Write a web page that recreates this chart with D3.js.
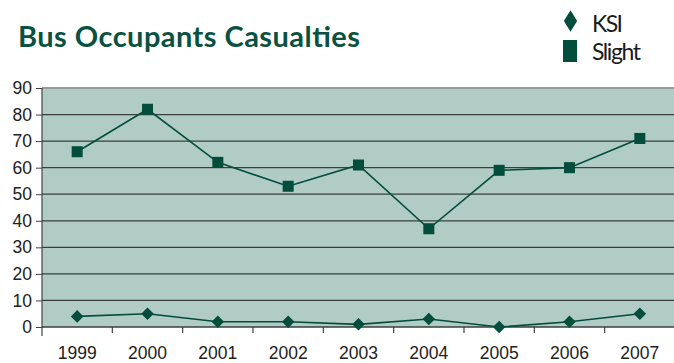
<!DOCTYPE html>
<html>
<head>
<meta charset="utf-8">
<script src="https://cdn.jsdelivr.net/npm/d3@7"></script>
<style>
  body { margin: 0; background: #fff; }
  svg { display: block; }
</style>
</head>
<body>
<script>
// data
const years = ["1999", "2000", "2001", "2002", "2003", "2004", "2005", "2006", "2007"];
const ksi = [4, 5, 2, 2, 1, 3, 0, 2, 5];
const slight = [66, 82, 62, 53, 61, 37, 59, 60, 71];
const yTicks = [0, 10, 20, 30, 40, 50, 60, 70, 80, 90];

const W = 674, H = 363;
const margin = {top: 88, left: 42, bottom: 36, right: -1};
const width = W - margin.left - margin.right;
const height = H - margin.top - margin.bottom;

const ink = "#024d3c";
const axisFont = "'Liberation Sans', Arial, sans-serif";

const svg = d3.select("body").append("svg")
  .attr("width", W)
  .attr("height", H);

// title
svg.append("text")
  .attr("x", 18).attr("y", 47)
  .attr("font-family", "Lato, 'Open Sans', sans-serif")
  .attr("font-weight", "bold")
  .attr("font-size", 29)
  .attr("textLength", 342)
  .attr("fill", "#0b5141")
  .text("Bus Occupants Casualties");

// legend
const legend = svg.append("g");
legend.append("path")
  .attr("d", d3.symbol(d3.symbolDiamond2, 100)())
  .attr("transform", "translate(570.5,21) scale(1.06,1.7)")
  .attr("fill", ink);
legend.append("text")
  .attr("x", 592).attr("y", 32)
  .attr("font-family", "Lato, sans-serif")
  .attr("font-size", 23)
  .attr("textLength", 31)
  .attr("fill", "#1a1a1a")
  .text("KSI");
legend.append("rect")
  .attr("x", 563).attr("y", 40).attr("width", 14).attr("height", 22)
  .attr("fill", ink);
legend.append("text")
  .attr("x", 592).attr("y", 60)
  .attr("font-family", "Lato, sans-serif")
  .attr("font-size", 23)
  .attr("textLength", 49)
  .attr("fill", "#1a1a1a")
  .text("Slight");

const g = svg.append("g")
  .attr("transform", `translate(${margin.left},${margin.top})`);

const x = d3.scaleBand().domain(years).range([0, width]);
const y = d3.scaleLinear().domain([0, 90]).range([height, 0]);

// plot background
g.append("rect")
  .attr("x", 0).attr("y", 0)
  .attr("width", width).attr("height", height)
  .attr("fill", "#b1cbc5");

// gridlines
g.selectAll(".grid")
  .data(yTicks.filter(d => d > 0 && d < 90))
  .enter().append("line")
  .attr("x1", 0).attr("x2", width)
  .attr("y1", d => y(d)).attr("y2", d => y(d))
  .attr("stroke", "#3a3f3d")
  .attr("stroke-width", 1.2);

g.append("line")
  .attr("x1", 0).attr("x2", width)
  .attr("y1", y(90)).attr("y2", y(90))
  .attr("stroke", "#969a99")
  .attr("stroke-width", 2);

// y axis
const yAxis = g.append("g")
  .call(d3.axisLeft(y).tickValues(yTicks).tickSize(6).tickPadding(4));
yAxis.select(".domain").remove();
yAxis.selectAll("line").attr("stroke", "#444");
yAxis.selectAll("text")
  .attr("font-family", axisFont)
  .attr("font-size", 17.5)
  .attr("fill", "#222");
g.append("line")
  .attr("x1", 0).attr("x2", 0)
  .attr("y1", 0).attr("y2", height + 9)
  .attr("stroke", "#444").attr("stroke-width", 1.2);

// x axis
g.append("line")
  .attr("x1", 0).attr("x2", width)
  .attr("y1", height).attr("y2", height)
  .attr("stroke", "#3a3f3d").attr("stroke-width", 1.5);
g.selectAll(".xtick")
  .data(years.slice(1))
  .enter().append("line")
  .attr("x1", d => x(d)).attr("x2", d => x(d))
  .attr("y1", height).attr("y2", height + 6)
  .attr("stroke", "#444").attr("stroke-width", 1.2);
g.selectAll(".xlabel")
  .data(years)
  .enter().append("text")
  .attr("x", d => x(d) + x.bandwidth() / 2)
  .attr("y", height + 32)
  .attr("text-anchor", "middle")
  .attr("font-family", axisFont)
  .attr("font-size", 17.5)
  .attr("fill", "#222")
  .text(d => d);

// lines
const cx = (d, i) => x(years[i]) + x.bandwidth() / 2;
const line = d3.line().x(cx).y(d => y(d));

g.append("path")
  .datum(slight)
  .attr("d", line)
  .attr("fill", "none")
  .attr("stroke", ink)
  .attr("stroke-width", 1.6);

g.append("path")
  .datum(ksi)
  .attr("d", line)
  .attr("fill", "none")
  .attr("stroke", ink)
  .attr("stroke-width", 1.6);

// markers
g.selectAll(".sq")
  .data(slight)
  .enter().append("rect")
  .attr("x", (d, i) => cx(d, i) - 5.5)
  .attr("y", d => y(d) - 5.5)
  .attr("width", 11).attr("height", 11)
  .attr("fill", ink);

g.selectAll(".dia")
  .data(ksi)
  .enter().append("path")
  .attr("d", d3.symbol(d3.symbolDiamond2, 100)())
  .attr("transform", (d, i) => `translate(${cx(d, i)},${y(d)})`)
  .attr("fill", ink);
</script>
</body>
</html>
